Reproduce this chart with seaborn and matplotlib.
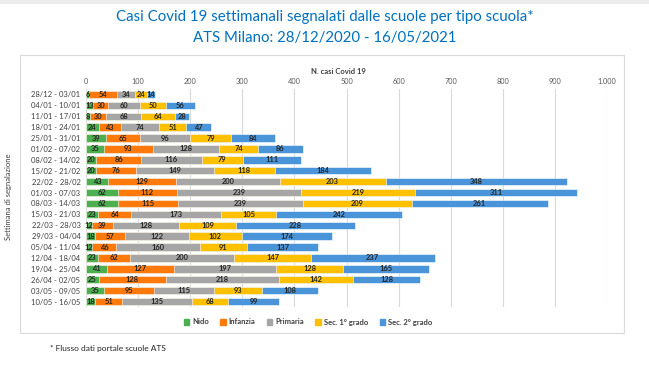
import matplotlib
matplotlib.use("Agg")
import matplotlib.pyplot as plt
import matplotlib.patches as mpatches
import numpy as np
import pandas as pd
import seaborn as sns

weeks = ["28/12 - 03/01", "04/01 - 10/01", "11/01 - 17/01", "18/01 - 24/01", "25/01 - 31/01",
         "01/02 - 07/02", "08/02 - 14/02", "15/02 - 21/02", "22/02 - 28/02", "01/03 - 07/03",
         "08/03 - 14/03", "15/03 - 21/03", "22/03 - 28/03", "29/03 - 04/04", "05/04 - 11/04",
         "12/04 - 18/04", "19/04 - 25/04", "26/04 - 02/05", "03/05 - 09/05", "10/05 - 16/05"]
nido = [6, 13, 8, 24, 39, 35, 20, 20, 43, 62, 62, 23, 12, 18, 12, 23, 41, 25, 35, 18]
infanzia = [54, 30, 30, 43, 65, 93, 86, 76, 129, 112, 115, 64, 39, 57, 46, 62, 127, 128, 95, 51]
primaria = [34, 60, 68, 74, 96, 128, 116, 149, 200, 239, 239, 173, 128, 122, 160, 200, 197, 218, 115, 135]
sec1 = [24, 50, 64, 51, 79, 74, 79, 118, 203, 219, 209, 105, 109, 102, 91, 147, 128, 142, 93, 68]
sec2 = [14, 56, 28, 47, 84, 86, 111, 184, 348, 311, 261, 242, 228, 174, 137, 237, 165, 128, 108, 99]
series = ["Nido", "Infanzia", "Primaria", "Sec. 1° grado", "Sec. 2° grado"]
colors = ["#4CB050", "#FF7A0A", "#A6A6A6", "#FFC000", "#4A94D9"]

df = pd.DataFrame({"week": weeks, "Nido": nido, "Infanzia": infanzia, "Primaria": primaria,
                   "Sec. 1° grado": sec1, "Sec. 2° grado": sec2})

sns.set_theme(style="white")
plt.rcParams["font.family"] = ["Lato", "DejaVu Sans"]

fig = plt.figure(figsize=(6.49, 3.65), dpi=100)
fig.patch.set_facecolor("white")
ax = fig.add_axes([86 / 649, 1 - 307 / 365, (607 - 86) / 649, 218 / 365])

cum = df[series].cumsum(axis=1)
# draw the stacks from the longest cumulative total down
for k in reversed(range(len(series))):
    sns.barplot(x=cum[series[k]], y=df["week"], color=colors[k], saturation=1, orient="h",
                width=0.68, edgecolor="white", linewidth=0.4, ax=ax)

for k, s in enumerate(series):
    for i, v in enumerate(df[s]):
        ax.text(cum[s][i] - v / 2, i, str(v), ha="center", va="center", fontsize=5.4,
                fontweight="bold", color="#262626")

ax.set_xlim(0, 1000)
ax.set_ylim(19.5, -0.5)
ax.xaxis.tick_top()
ax.set_xticks(range(0, 1001, 100))
ax.set_xticklabels(["0", "100", "200", "300", "400", "500", "600", "700", "800", "900", "1.000"])
ax.tick_params(axis="x", labelsize=5.3, colors="#595959", length=0, pad=3)
ax.tick_params(axis="y", labelsize=5.5, colors="#404040", length=0, pad=4)
ax.grid(axis="x", color="#D9D9D9", linewidth=0.8)
ax.set_axisbelow(True)
for sp in ax.spines.values():
    sp.set_visible(False)
ax.set_xlabel("")
ax.set_ylabel("")

fig.text(338 / 649, 1 - 71 / 365, "N. casi Covid 19", ha="center", va="center", fontsize=5.5,
         fontweight="bold", color="#404040")
fig.text(9 / 649, 1 - 197 / 365, "Settimana di segnalazione", rotation=90, ha="center",
         va="center", fontsize=5.5, color="#404040")

handles = [mpatches.Patch(color=c, label=s) for s, c in zip(series, colors)]
fig.legend(handles=handles, loc="center", bbox_to_anchor=(308 / 649, 1 - 322 / 365), ncol=5,
           frameon=False, handlelength=0.7, handleheight=0.7, handletextpad=0.4,
           columnspacing=1.5, prop={"weight": "bold", "size": 5.5})
for t in fig.legends[0].get_texts():
    t.set_color("#404040")

fig.text(0.5, 1 - 17 / 365, "Casi Covid 19 settimanali segnalati dalle scuole per tipo scuola*",
         ha="center", va="center", fontsize=10.8, color="#0070C0")
fig.text(0.5, 1 - 38 / 365, "ATS Milano: 28/12/2020 - 16/05/2021", ha="center", va="center",
         fontsize=10.8, color="#0070C0")
fig.text(50 / 649, 1 - 349 / 365, "* Flusso dati portale scuole ATS", ha="left", va="center",
         fontsize=6, color="#262626")

fig.patches.append(mpatches.Rectangle((20 / 649, 1 - 333 / 365), 604 / 649, 278 / 365,
                                      transform=fig.transFigure, fill=False,
                                      edgecolor="#D9D9D9", linewidth=0.8))
fig.patches.append(mpatches.Rectangle((0, 1 - 4 / 365), 1, 4 / 365, transform=fig.transFigure,
                                      facecolor="#EDEDED", edgecolor="none"))

fig.savefig("out.png", dpi=100)
